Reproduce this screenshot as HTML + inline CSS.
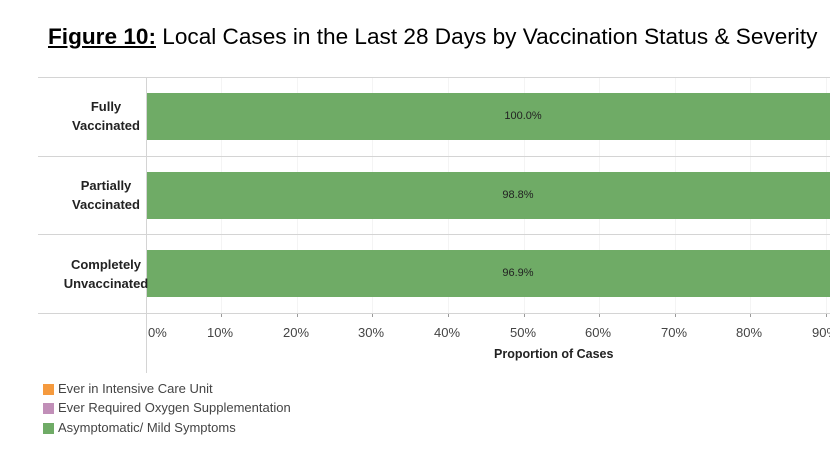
<!DOCTYPE html>
<html><head><style>
body{margin:0;width:830px;height:468px;background:#fff;overflow:hidden;font-family:"Liberation Sans",sans-serif;position:relative}
.a{position:absolute}
.t{font-size:22.6px;color:#000;left:48px;top:24px;white-space:nowrap}
.h{height:1px;background:#d4d4d4;left:38px;width:792px}
.bar{background:#6fab66;left:147px;width:683px;height:47px}
.lbl{font-size:13px;font-weight:bold;color:#222;width:120px;text-align:center;line-height:19px;left:46px}
.v{font-size:11px;color:#222;text-align:center;width:100px}
.tk{font-size:13px;color:#444;top:325px}
.g{width:1px;background:#f4f4f4;top:78px;height:235px}
.lg{font-size:13px;color:#444;left:58px}
.sw{width:11px;height:11px;left:43px}
.tm{width:1px;height:4px;background:#999;top:313px}
</style></head><body>
<div class="a t"><b><u>Figure 10:</u></b> Local Cases in the Last 28 Days by Vaccination Status &amp; Severity</div>
<div class="a g" style="left:221px"></div><div class="a g" style="left:297px"></div><div class="a g" style="left:372px"></div><div class="a g" style="left:448px"></div><div class="a g" style="left:524px"></div><div class="a g" style="left:599px"></div><div class="a g" style="left:675px"></div><div class="a g" style="left:750px"></div><div class="a g" style="left:826px"></div>
<div class="a tm" style="left:221px"></div><div class="a tm" style="left:297px"></div><div class="a tm" style="left:372px"></div><div class="a tm" style="left:448px"></div><div class="a tm" style="left:524px"></div><div class="a tm" style="left:599px"></div><div class="a tm" style="left:675px"></div><div class="a tm" style="left:750px"></div><div class="a tm" style="left:826px"></div>
<div class="a h" style="top:77px"></div>
<div class="a h" style="top:156px"></div>
<div class="a h" style="top:234px"></div>
<div class="a h" style="top:313px"></div>
<div class="a" style="left:146px;top:77px;width:1px;height:296px;background:#d4d4d4"></div>
<div class="a bar" style="top:93px"></div>
<div class="a bar" style="top:172px"></div>
<div class="a bar" style="top:250px"></div>
<div class="a v" style="left:473px;top:110px">100.0%</div>
<div class="a v" style="left:468px;top:189px">98.8%</div>
<div class="a v" style="left:468px;top:267px">96.9%</div>
<div class="a lbl" style="top:97px">Fully<br>Vaccinated</div>
<div class="a lbl" style="top:176px">Partially<br>Vaccinated</div>
<div class="a lbl" style="top:255px">Completely<br>Unvaccinated</div>
<div class="a tk" style="left:148px">0%</div>
<div class="a tk" style="left:207px">10%</div>
<div class="a tk" style="left:283px">20%</div>
<div class="a tk" style="left:358px">30%</div>
<div class="a tk" style="left:434px">40%</div>
<div class="a tk" style="left:510px">50%</div>
<div class="a tk" style="left:585px">60%</div>
<div class="a tk" style="left:661px">70%</div>
<div class="a tk" style="left:736px">80%</div>
<div class="a tk" style="left:812px">90%</div>
<div class="a" style="left:494px;top:347px;font-size:12.5px;font-weight:bold;color:#222">Proportion of Cases</div>
<div class="a sw" style="top:384px;background:#f59a3e"></div><div class="a lg" style="top:381px">Ever in Intensive Care Unit</div>
<div class="a sw" style="top:403px;background:#c18fb8"></div><div class="a lg" style="top:400px">Ever Required Oxygen Supplementation</div>
<div class="a sw" style="top:423px;background:#6fab66"></div><div class="a lg" style="top:420px">Asymptomatic/ Mild Symptoms</div>
</body></html>
